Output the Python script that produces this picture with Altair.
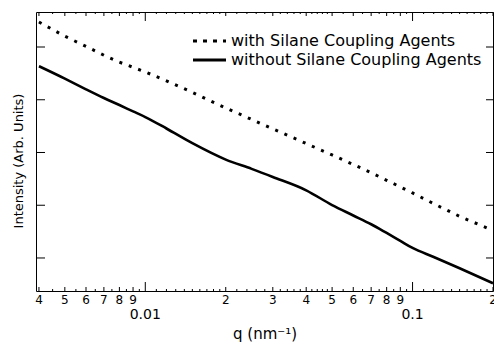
import altair as alt
import pandas as pd

# ---- data ----
q = [0.004, 0.005, 0.006, 0.007, 0.008, 0.009, 0.01, 0.012, 0.015, 0.02, 0.025,
     0.03, 0.04, 0.05, 0.06, 0.07, 0.08, 0.09, 0.1, 0.12, 0.15, 0.2]
with_sca = [29800, 16000, 10300, 6970, 5150, 4120, 3370, 2280, 1380, 698, 423,
            280, 148, 89.7, 59.3, 41.4, 29.7, 22.2, 17.1, 10.7, 6.15, 3.32]
without_sca = [4325, 2512, 1578, 1079, 794, 601, 470, 285, 150, 73.3, 48.9,
               34.4, 19.2, 10.07, 6.40, 4.36, 2.98, 2.11, 1.55, 1.045, 0.638, 0.331]

series_names = ["with Silane Coupling Agents", "without Silane Coupling Agents"]

decade_ticks = [0.01, 0.1]
decade_labels = ["0.01", "0.1"]
int_ticks = [0.004, 0.005, 0.006, 0.007, 0.008, 0.009,
             0.02, 0.03, 0.04, 0.05, 0.06, 0.07, 0.08, 0.09, 0.2]
int_labels = ["4", "5", "6", "7", "8", "9",
              "2", "3", "4", "5", "6", "7", "8", "9", "2"]
fine_ticks = [0.0045, 0.0055, 0.0065, 0.0075, 0.0085, 0.0095,
              0.011, 0.012, 0.013, 0.014, 0.015, 0.016, 0.017, 0.018, 0.019,
              0.022, 0.024, 0.026, 0.028, 0.032, 0.034, 0.036, 0.038,
              0.042, 0.044, 0.046, 0.048, 0.055, 0.065, 0.075, 0.085, 0.095,
              0.11, 0.12, 0.13, 0.14, 0.15, 0.16, 0.17, 0.18, 0.19]
y_ticks = [1, 10, 100, 1000, 10000]

x_title = "q (nm⁻¹)"
y_title = "Intensity (Arb. Units)"

W, H = 457, 279
FONT = "DejaVu Sans"

xs = alt.Scale(type="log", domain=[0.0039, 0.2], nice=False)
ys = alt.Scale(type="log", domain=[0.2366, 46100], nice=False, zero=False)

df = pd.DataFrame({"q": q, "with": with_sca, "without": without_sca})

line_with = alt.Chart(df).mark_line(color="black", strokeWidth=3,
                                    strokeDash=[3, 7], strokeCap="butt").encode(
    x=alt.X("q:Q", scale=xs, axis=None),
    y=alt.Y("with:Q", scale=ys, axis=None),
)
line_without = alt.Chart(df).mark_line(color="black", strokeWidth=2.6,
                                       interpolate="monotone").encode(
    x=alt.X("q:Q", scale=xs, axis=None),
    y=alt.Y("without:Q", scale=ys, axis=None),
)

dec_df = pd.DataFrame({"t": decade_ticks, "lab": decade_labels})
int_df = pd.DataFrame({"t": int_ticks, "lab": int_labels})
fine_df = pd.DataFrame({"t": fine_ticks})
yt_df = pd.DataFrame({"v": y_ticks})


def xticks(data, length):
    bot = alt.Chart(data).mark_rule(color="black", strokeWidth=1).encode(
        x=alt.X("t:Q", scale=xs, axis=None),
        y=alt.value(H), y2=alt.value(H - length))
    top = alt.Chart(data).mark_rule(color="black", strokeWidth=1).encode(
        x=alt.X("t:Q", scale=xs, axis=None),
        y=alt.value(0), y2=alt.value(length))
    return bot + top


ticks = xticks(dec_df, 9) + xticks(int_df, 4) + xticks(fine_df, 2)

ytick_l = alt.Chart(yt_df).mark_rule(color="black", strokeWidth=1).encode(
    y=alt.Y("v:Q", scale=ys, axis=None), x=alt.value(0), x2=alt.value(9))
ytick_r = alt.Chart(yt_df).mark_rule(color="black", strokeWidth=1).encode(
    y=alt.Y("v:Q", scale=ys, axis=None), x=alt.value(W - 7), x2=alt.value(W))

int_lab = alt.Chart(int_df).mark_text(font=FONT, fontSize=12, baseline="middle",
                                      align="center", color="black").encode(
    x=alt.X("t:Q", scale=xs, axis=None), y=alt.value(287.5), text="lab:N")
dec_lab = alt.Chart(dec_df).mark_text(font=FONT, fontSize=14, baseline="middle",
                                      align="center", color="black").encode(
    x=alt.X("t:Q", scale=xs, axis=None), y=alt.value(303), text="lab:N")

xt = alt.Chart(pd.DataFrame({"s": [x_title]})).mark_text(
    font=FONT, fontSize=15, baseline="middle", align="center", color="black").encode(
    x=alt.value(229), y=alt.value(322), text="s:N")
yt = alt.Chart(pd.DataFrame({"s": [y_title]})).mark_text(
    font=FONT, fontSize=13, baseline="middle", align="center", angle=270,
    color="black").encode(x=alt.value(-17), y=alt.value(149), text="s:N")

leg_text1 = alt.Chart(pd.DataFrame({"s": [series_names[0]]})).mark_text(
    font=FONT, fontSize=16, baseline="middle", align="left", color="black").encode(
    x=alt.value(195), y=alt.value(29), text="s:N")
leg_text2 = alt.Chart(pd.DataFrame({"s": [series_names[1]]})).mark_text(
    font=FONT, fontSize=16, baseline="middle", align="left", color="black").encode(
    x=alt.value(195), y=alt.value(48), text="s:N")
leg_line1 = alt.Chart(pd.DataFrame({"s": [series_names[0]]})).mark_rule(
    color="black", strokeWidth=3, strokeDash=[4, 6], strokeCap="butt").encode(
    x=alt.value(157), x2=alt.value(190), y=alt.value(29))
leg_line2 = alt.Chart(pd.DataFrame({"s": [series_names[1]]})).mark_rule(
    color="black", strokeWidth=3).encode(
    x=alt.value(157), x2=alt.value(190), y=alt.value(48))

chart = alt.layer(
    line_with, line_without, ticks, ytick_l, ytick_r, int_lab, dec_lab, xt, yt,
    leg_line1, leg_line2, leg_text1, leg_text2
).properties(
    width=W, height=H,
    autosize=alt.AutoSizeParams(type="none"),
    padding={"left": 36, "top": 12, "right": 1, "bottom": 54},
    background="white",
).configure_view(stroke="black", strokeWidth=1)

chart.save("out.html", embed_options={"renderer": "svg", "actions": False})
